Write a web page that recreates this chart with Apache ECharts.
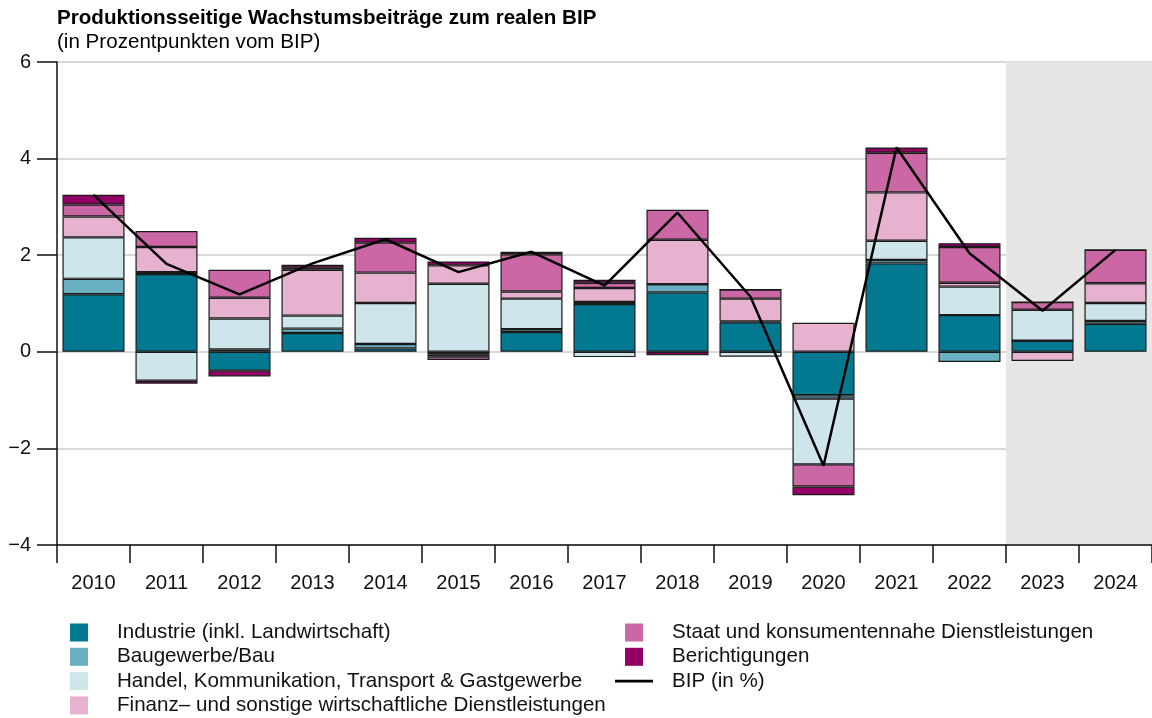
<!DOCTYPE html>
<html>
<head>
<meta charset="utf-8">
<script src="https://cdn.jsdelivr.net/npm/echarts@6/dist/echarts.min.js"></script>
<style>
  html, body { margin: 0; padding: 0; background: #fff; }
  #chart { width: 1152px; height: 718px; }
</style>
</head>
<body>
<div id="chart"></div>
<script>
// Jahre und Prognosejahre
var years = ['2010','2011','2012','2013','2014','2015','2016','2017','2018','2019','2020','2021','2022','2023','2024'];
var forecastYears = ['2023','2024'];

// Wachstumsbeiträge in Prozentpunkten
var industrie = [1.19, 1.61, -0.39, 0.39, 0.07, -0.05, 0.41, 0.99, 1.23, 0.61, -0.90, 1.83, 0.76, 0.23, 0.58];
var bau       = [0.32, 0.04, 0.05, 0.09, 0.09, -0.05, 0.06, 0.04, 0.17, 0.02, -0.07, 0.07, -0.21, 0, 0.06];
var handel    = [0.86, -0.60, 0.64, 0.27, 0.85, 1.41, 0.63, -0.11, 0, -0.10, -1.36, 0.40, 0.59, 0.64, 0.37];
var finanz    = [0.43, 0.52, 0.43, 0.95, 0.63, 0.38, 0.15, 0.29, 0.92, 0.47, 0.60, 1.00, 0.08, -0.19, 0.41];
var staat     = [0.25, 0.33, 0.58, 0.04, 0.62, -0.07, 0.77, 0.11, 0.62, 0.19, -0.46, 0.82, 0.74, 0.16, 0.69];
var bericht   = [0.20, -0.06, -0.12, 0.06, 0.10, 0.08, 0.05, 0.06, -0.07, 0, -0.18, 0.11, 0.08, 0, 0];
var bip       = [3.25, 1.82, 1.19, 1.83, 2.33, 1.65, 2.07, 1.37, 2.88, 1.14, -2.36, 4.23, 2.04, 0.85, 2.11];

var yTicks = [-4, -2, 0, 2, 4, 6];

var FONT = '"Liberation Sans", Arial, Helvetica, sans-serif';
var FS = 20.6;
var square = 'path://M0,0L10,0L10,10L0,10Z';
var dash = 'path://M0,0L40,0L40,3L0,3Z';

var barSeries = [
  {name: 'Industrie (inkl. Landwirtschaft)', data: industrie, color: '#027991'},
  {name: 'Baugewerbe/Bau', data: bau, color: '#69b1c2'},
  {name: 'Handel, Kommunikation, Transport & Gastgewerbe', data: handel, color: '#cde5eb'},
  {name: 'Finanz\u2013 und sonstige wirtschaftliche Dienstleistungen', data: finanz, color: '#e7b1d0'},
  {name: 'Staat und konsumentennahe Dienstleistungen', data: staat, color: '#cb67a4'},
  {name: 'Berichtigungen', data: bericht, color: '#920066'}
].map(function (s) {
  return {
    name: s.name,
    type: 'bar',
    stack: 'beitrag',
    barWidth: '85%',
    data: s.data,
    itemStyle: {color: s.color, borderColor: '#1a1a1a', borderWidth: 1.2},
    emphasis: {disabled: true}
  };
});

var legendText = {fontFamily: FONT, fontSize: FS, color: '#111', lineHeight: 18, padding: [0, 0, 0, 14]};

var myChart = echarts.init(document.getElementById('chart'), null, {renderer: 'canvas'});
myChart.setOption({
  animation: false,
  title: {
    text: 'Produktionsseitige Wachstumsbeiträge zum realen BIP',
    subtext: '(in Prozentpunkten vom BIP)',
    left: 57, top: 8, padding: 0, itemGap: 3,
    textStyle: {fontFamily: FONT, fontSize: FS, fontWeight: 'bold', color: '#000'},
    subtextStyle: {fontFamily: FONT, fontSize: FS, color: '#000'}
  },
  legend: [{
    left: 65, top: 617, height: 110, orient: 'vertical',
    itemWidth: 38, itemHeight: 18, itemGap: 3.3,
    itemStyle: {borderWidth: 0},
    textStyle: legendText,
    selectedMode: false,
    data: barSeries.slice(0, 4).map(function (s) { return {name: s.name, icon: square}; })
  }, {
    left: 610, top: 617, height: 110, orient: 'vertical',
    itemWidth: 38, itemHeight: 18, itemGap: 3.3,
    itemStyle: {borderWidth: 0},
    textStyle: legendText,
    selectedMode: false,
    data: barSeries.slice(4).map(function (s) { return {name: s.name, icon: square}; })
      .concat([{name: 'BIP (in %)', icon: dash}])
  }],
  grid: {left: 57, top: 62, width: 1099, bottom: 173, containLabel: false},
  xAxis: {
    type: 'category',
    data: years,
    boundaryGap: true,
    axisLine: {onZero: false, lineStyle: {color: '#111', width: 1.5}},
    axisTick: {show: true, length: 18, interval: 0, lineStyle: {color: '#111', width: 1.5}},
    axisLabel: {fontFamily: FONT, fontSize: 20, color: '#111', margin: 28, interval: 0},
    splitArea: {
      show: true,
      interval: 0,
      areaStyle: {color: years.map(function (y) { return forecastYears.indexOf(y) >= 0 ? '#e6e6e6' : 'rgba(0,0,0,0)'; })}
    }
  },
  yAxis: {
    type: 'value',
    min: yTicks[0], max: yTicks[yTicks.length - 1], interval: 2,
    axisLine: {show: true, lineStyle: {color: '#111', width: 1.5}},
    axisTick: {show: true, length: 20, lineStyle: {color: '#111', width: 1.5}},
    axisLabel: {
      fontFamily: FONT, fontSize: 20, color: '#111', margin: 26,
      formatter: function (v) { return v < 0 ? '\u2212' + Math.abs(v) : String(v); }
    },
    splitLine: {show: true, lineStyle: {color: '#cccccc', width: 1.5}}
  },
  series: barSeries.concat([{
    name: 'BIP (in %)',
    type: 'line',
    data: bip,
    symbol: 'none',
    z: 5,
    lineStyle: {color: '#000', width: 2.5},
    itemStyle: {color: '#000'},
    emphasis: {disabled: true}
  }])
});
</script>
</body>
</html>
